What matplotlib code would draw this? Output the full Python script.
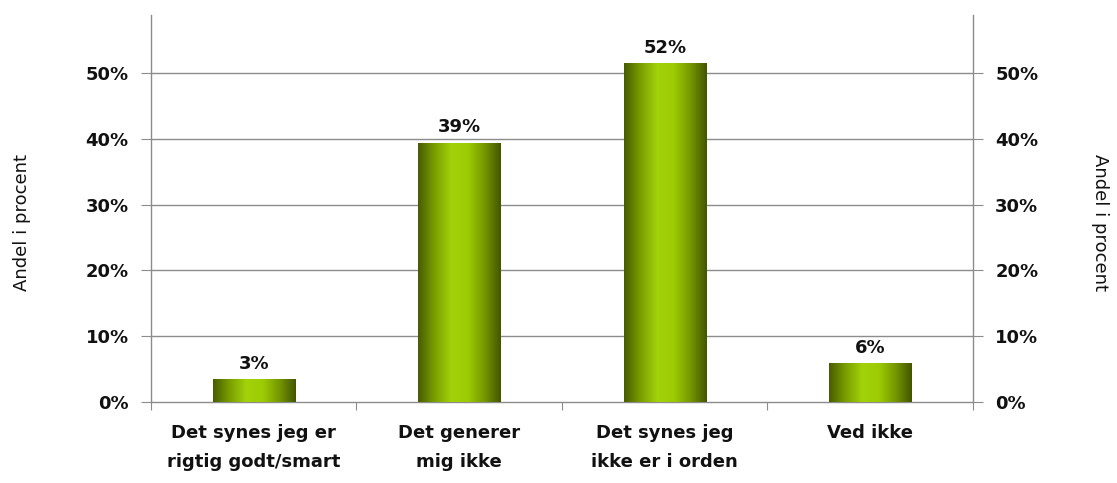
import matplotlib
matplotlib.use("Agg")
import matplotlib.pyplot as plt
import numpy as np
from matplotlib.colors import LinearSegmentedColormap
from matplotlib.ticker import FuncFormatter, FixedLocator

categories = ["Det synes jeg er\nrigtig godt/smart", "Det generer\nmig ikke",
              "Det synes jeg\nikke er i orden", "Ved ikke"]
values = [0.035, 0.394, 0.515, 0.059]
value_labels = ["3%", "39%", "52%", "6%"]
yticks = [0.0, 0.1, 0.2, 0.3, 0.4, 0.5]

plt.rcParams['font.family'] = ['DejaVu Sans']

fig = plt.figure(figsize=(11.17, 4.83), dpi=100)
ax = fig.add_axes([0.1352, 0.1677, 0.871 - 0.1352, 0.969 - 0.1677])
ymax = 0.588

cmap = LinearSegmentedColormap.from_list(
    "g", ["#485c00", "#7a9e00", "#a2d20a", "#9dcc04", "#769800", "#435500"])
grad = np.linspace(0, 1, 256).reshape(1, -1)

x = np.arange(len(categories))
width = 0.4
bars = ax.bar(x, values, width=width, color="none", zorder=3)
for b in bars:
    bx, by = b.get_x(), b.get_y()
    w, h = b.get_width(), b.get_height()
    im = ax.imshow(grad, cmap=cmap, aspect="auto",
                   extent=[bx, bx + w, by, by + h], zorder=3)
    im.set_clip_path(b)

ax.set_xlim(-0.5, len(categories) - 0.5)
ax.set_ylim(0, ymax)

fs = 13
for xi, v, lab in zip(x, values, value_labels):
    ax.annotate(lab, (xi, v), xytext=(0, 4.5), textcoords="offset points",
                ha="center", va="bottom", fontsize=fs, fontweight="bold",
                color="#111111", zorder=4)

gray = "#8c8c8c"
for t in yticks[1:]:
    ax.axhline(t, color=gray, lw=1.0, zorder=1)

ax.spines["top"].set_visible(False)
for s in ["left", "right", "bottom"]:
    ax.spines[s].set_color(gray)
    ax.spines[s].set_linewidth(1.0)

ax.yaxis.set_major_locator(FixedLocator(yticks))
ax.yaxis.set_major_formatter(FuncFormatter(lambda v, p: f"{v*100:.0f}%"))
ax.tick_params(axis="y", which="both", direction="out", length=7, color=gray,
               labelsize=fs, pad=9, left=True, right=True,
               labelleft=True, labelright=True, labelcolor="#111111")
for t in ax.yaxis.get_major_ticks():
    t.label1.set_fontweight("bold")
    t.label2.set_fontweight("bold")

ax.set_xticks(np.arange(-0.5, len(categories), 1.0), minor=False)
ax.set_xticklabels([])
ax.set_xticks(x, minor=True)
ax.set_xticklabels(categories, minor=True, fontsize=fs, fontweight="bold",
                   linespacing=1.8, color="#111111")
ax.tick_params(axis="x", which="major", direction="out", length=6, color=gray)
ax.tick_params(axis="x", which="minor", length=0, pad=16)

fig.text(0.020, 0.54, "Andel i procent", rotation=90, ha="center", va="center",
         fontsize=13, color="#111111")
fig.text(0.985, 0.54, "Andel i procent", rotation=-90, ha="center", va="center",
         fontsize=13, color="#111111")

fig.savefig("out.png", dpi=100)
